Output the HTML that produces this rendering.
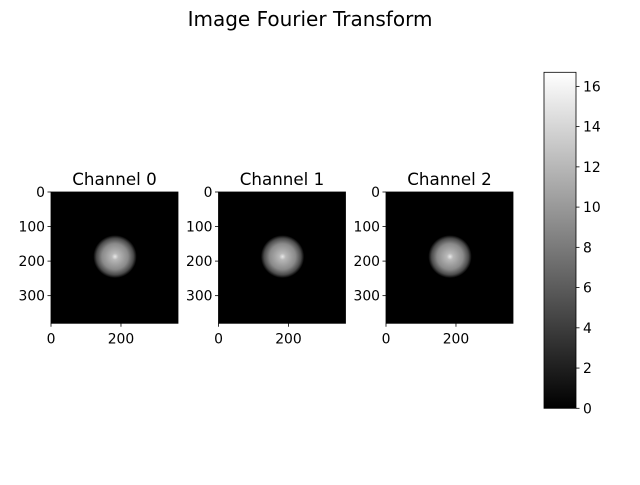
<!DOCTYPE html>
<html><head><meta charset="utf-8"><style>
body{margin:0;background:#fff;}
svg text{font-family:"DejaVu Sans","Liberation Sans",sans-serif;fill:#000;}
</style></head><body>
<svg id="fig" width="640" height="480" viewBox="0 0 640 480" xmlns="http://www.w3.org/2000/svg">
<defs>
<radialGradient id="blob">
<stop offset="0" stop-color="#e8e8e8"/>
<stop offset="0.15" stop-color="#b8b8b8"/>
<stop offset="0.6" stop-color="#8a8a8a"/>
<stop offset="0.85" stop-color="#4a4a4a"/>
<stop offset="1" stop-color="#000"/>
</radialGradient>
<linearGradient id="cbar" x1="0" y1="1" x2="0" y2="0">
<stop offset="0" stop-color="#000"/><stop offset="1" stop-color="#fff"/>
</linearGradient>
</defs>
<text x="310" y="26" font-size="20" text-anchor="middle">Image Fourier Transform</text>
<g id="panels"></g>
<g id="colorbar"></g>
</svg>
<script>
const channels = ["Channel 0","Channel 1","Channel 2"];
const imgWidth = 363, imgHeight = 380;
const blobCenterX = [183,183,183];
const blobCenterY = [187,187,187];
const blobRadius = [62,62,62];
const xTicks = [0,200];
const yTicks = [0,100,200,300];
const cbarTicks = [0,2,4,6,8,10,12,14,16];
const cbarMax = 16.7;

const NS="http://www.w3.org/2000/svg";
function mk(tag,attrs,parent,text){const e=document.createElementNS(NS,tag);for(const k in attrs)e.setAttribute(k,attrs[k]);if(text!==undefined)e.textContent=text;parent.appendChild(e);return e;}
const panelLeft=[51,218.5,386], axTop=192, W=127, H=131.3;
const panels=document.getElementById('panels');
channels.forEach((name,i)=>{
  const x0=panelLeft[i];
  const sx=v=>x0+v/imgWidth*W, sy=v=>axTop+v/imgHeight*H;
  const g=mk('g',{},panels);
  
  
  const img=mk('rect',{x:x0,y:axTop,width:W,height:H,fill:'#000'},g);
  
  
  const rx=blobRadius[i]/imgWidth*W, ry=blobRadius[i]/imgHeight*H;
  const b=mk('ellipse',{cx:sx(blobCenterX[i]),cy:sy(blobCenterY[i]),rx:rx,ry:ry,fill:'url(#blob)'},g);
  
  
  const fr=mk('rect',{x:x0,y:axTop,width:W,height:H,fill:'none',stroke:'#000','stroke-width':0.8},g);
  
  
  const t=mk('text',{x:x0+W/2,y:axTop-7,'font-size':16.7,'text-anchor':'middle'},g,name);
  
  
  xTicks.forEach(v=>{
    const x=sx(v);
    mk('line',{x1:x,x2:x,y1:axTop+H,y2:axTop+H+3.5,stroke:'#000','stroke-width':0.8},g);
    const l=mk('text',{x:x,y:axTop+H+20,'font-size':13.9,'text-anchor':'middle'},g,v);
    
    
  });
  yTicks.forEach(v=>{
    const y=sy(v);
    mk('line',{x1:x0-3.5,x2:x0,y1:y,y2:y,stroke:'#000','stroke-width':0.8},g);
    const l=mk('text',{x:x0-6,y:y+5,'font-size':13.9,'text-anchor':'end'},g,v);
    
    
  });
});
const cb=document.getElementById('colorbar');


const cx=544, cw=32, cbTop=72.3, cbBot=408.3;
const cy=v=>cbBot-v/cbarMax*(cbBot-cbTop);
mk('rect',{x:cx,y:cbTop,width:cw,height:cbBot-cbTop,fill:'url(#cbar)',stroke:'#000','stroke-width':0.8},cb);
cbarTicks.forEach(v=>{
  const y=cy(v);
  mk('line',{x1:cx+cw,x2:cx+cw+3.5,y1:y,y2:y,stroke:'#000','stroke-width':0.8},cb);
  const l=mk('text',{x:cx+cw+7,y:y+5,'font-size':13.9},cb,v);
  
  
});
</script>
</body></html>
